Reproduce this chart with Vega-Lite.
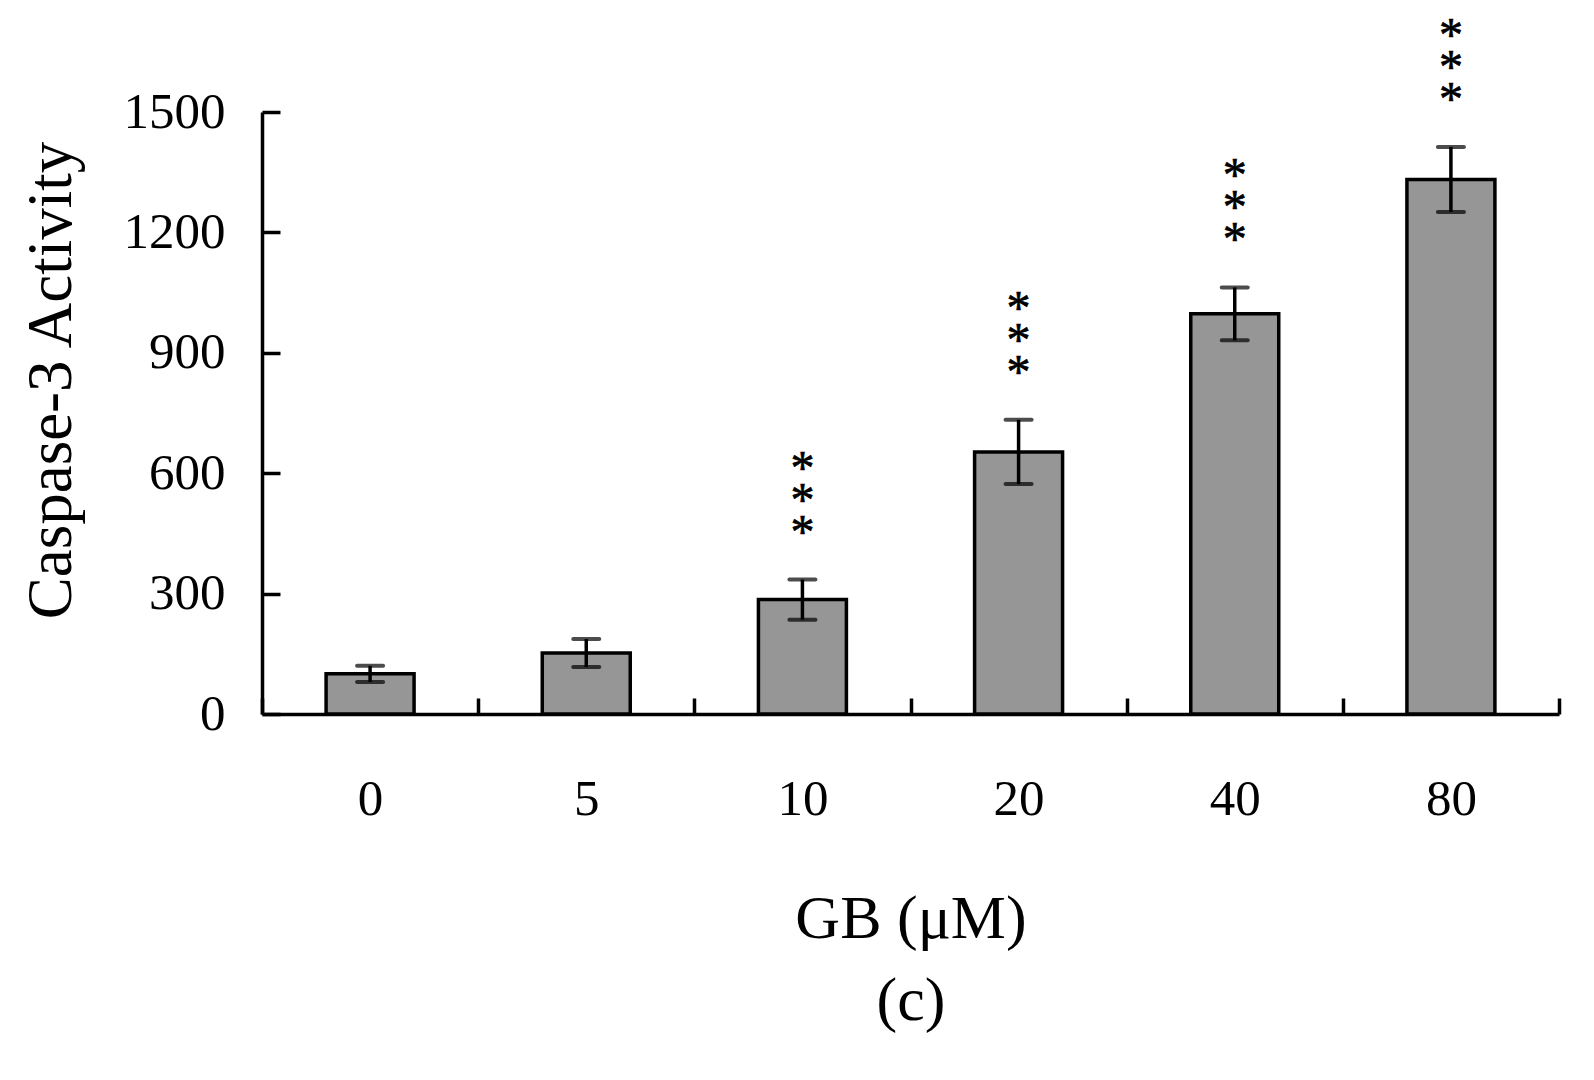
{
  "$schema": "https://vega.github.io/schema/vega-lite/v6.json",
  "autosize": "none",
  "width": 1297,
  "height": 602,
  "padding": {"left": 262, "top": 112, "right": 35, "bottom": 366},
  "background": "white",
  "config": {
    "view": {"stroke": null},
    "font": "Liberation Serif",
    "axis": {
      "domainColor": "black", "domainWidth": 3.5, "tickColor": "black", "tickWidth": 3.5,
      "labelColor": "black", "titleColor": "black", "labelFont": "Liberation Serif",
      "titleFont": "Liberation Serif", "labelFontSize": 51, "titleFontSize": 62,
      "titleFontWeight": "normal", "grid": false
    }
  },
  "data": {"values": [
    {"conc": "0", "mean": 100, "err": 20, "sig": ""},
    {"conc": "5", "mean": 152, "err": 35, "sig": ""},
    {"conc": "10", "mean": 285, "err": 50, "sig": "*\n*\n*"},
    {"conc": "20", "mean": 653, "err": 80, "sig": "*\n*\n*"},
    {"conc": "40", "mean": 997, "err": 66, "sig": "*\n*\n*"},
    {"conc": "80", "mean": 1332, "err": 81, "sig": "*\n*\n*"}
  ]},
  "transform": [
    {"calculate": "datum.mean - datum.err", "as": "lo"},
    {"calculate": "datum.mean + datum.err", "as": "hi"}
  ],
  "encoding": {
    "x": {
      "field": "conc", "type": "ordinal", "sort": null,
      "scale": {"paddingInner": 0, "paddingOuter": 0},
      "axis": {
        "title": ["GB (μM)", "(c)"], "labelAngle": 0, "tickBand": "extent",
        "tickSize": -16, "labelPadding": 76, "titlePadding": 64, "titleLineHeight": 82
      }
    }
  },
  "layer": [
    {
      "mark": {"type": "bar", "width": {"band": 0.407}, "fill": "#969696", "stroke": "black", "strokeWidth": 3.5},
      "encoding": {
        "y": {
          "field": "mean", "type": "quantitative",
          "scale": {"domain": [0, 1500], "nice": false},
          "axis": {
            "title": "Caspase-3 Activity", "values": [0, 300, 600, 900, 1200, 1500], "format": "d",
            "tickSize": -18, "labelPadding": 55, "titlePadding": 40, "titleY": 268, "titleFontSize": 63
          }
        }
      }
    },
    {
      "mark": {"type": "rule", "color": "black", "strokeWidth": 3.5},
      "encoding": {
        "y": {"field": "lo", "type": "quantitative"},
        "y2": {"field": "hi"}
      }
    },
    {
      "mark": {"type": "tick", "color": "black", "thickness": 4, "size": 30, "cornerRadius": 2},
      "encoding": {"y": {"field": "lo", "type": "quantitative"}}
    },
    {
      "mark": {"type": "tick", "color": "black", "thickness": 4, "size": 30, "cornerRadius": 2},
      "encoding": {"y": {"field": "hi", "type": "quantitative"}}
    },
    {
      "mark": {"type": "text", "fontSize": 48, "lineHeight": 32, "lineBreak": "\n", "baseline": "bottom", "dy": -86, "color": "black", "stroke": "black", "strokeWidth": 0.7, "font": "Liberation Serif"},
      "encoding": {
        "y": {"field": "hi", "type": "quantitative"},
        "text": {"field": "sig"}
      }
    }
  ]
}
